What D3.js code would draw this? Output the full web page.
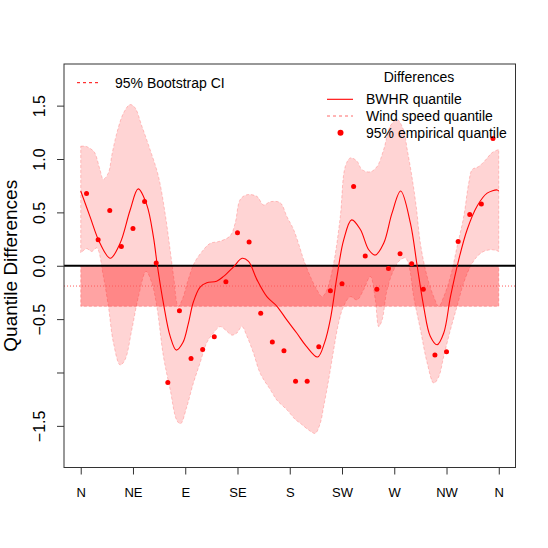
<!DOCTYPE html>
<html>
<head>
<meta charset="utf-8">
<script src="https://cdn.jsdelivr.net/npm/d3@7"></script>
<style>
  html, body { margin: 0; padding: 0; background: #fff; }
  svg { display: block; font-family: "Liberation Sans", Arial, Helvetica, sans-serif; }
</style>
</head>
<body>
<div id="chart"></div>
<script>
// Compass axis
const compassLabels = ['N', 'NE', 'E', 'SE', 'S', 'SW', 'W', 'NW', 'N'];
const compassDeg = [0, 45, 90, 135, 180, 225, 270, 315, 360];

// Y ticks (R drops the -1.0 label)
const yTicks = [-1.5, -1, -0.5, 0, 0.5, 1, 1.5];
const yTickLabels = ['\u22121.5', '', '\u22120.5', '0.0', '0.5', '1.0', '1.5'];

// 95% empirical quantile differences
const empDeg = [5, 15, 25, 35, 45, 55, 65, 75, 85, 95, 105, 115, 125, 135, 145, 155, 165, 175,
  185, 195, 205, 215, 225, 235, 245, 255, 265, 275, 285, 295, 305, 315, 325, 335, 345, 355];
const empVal = [0.678, 0.244, 0.518, 0.181, 0.350, 0.603, 0.025, -1.094, -0.422, -0.869, -0.784, -0.665,
  -0.150, 0.309, 0.222, -0.444, -0.715, -0.797, -1.081, -1.081, -0.759, -0.234, -0.169, 0.743,
  0.091, -0.219, -0.025, 0.112, 0.019, -0.219, -0.837, -0.806, 0.228, 0.481, 0.578, 1.193];

// BWHR quantile difference curve
const bwhrDeg = [0, 8, 16.6, 25.5, 33.9, 42.5, 49.5, 56.9, 62.6, 66, 71.2, 77, 82.3, 88, 92.5, 97, 102.8,
  108.6, 117, 123, 131.6, 139, 144.5, 151.7, 160.3, 169, 177.6, 186, 194, 204, 210, 215, 220.7, 226.4,
  233.3, 240.8, 248, 253.7, 260.9, 268, 275.5, 283.9, 289.7, 295.3, 301, 306.9, 312.6, 318.4, 325.5,
  332.8, 341.4, 350, 358.6, 360];
const bwhrVal = [0.70, 0.46, 0.21, 0.07, 0.21, 0.52, 0.72, 0.57, 0.27, 0.0, -0.35, -0.66, -0.79, -0.72,
  -0.55, -0.34, -0.20, -0.16, -0.145, -0.10, -0.01, 0.07, 0.04, -0.13, -0.29, -0.38, -0.51, -0.63, -0.75,
  -0.855, -0.72, -0.50, -0.10, 0.24, 0.43, 0.34, 0.15, 0.10, 0.21, 0.49, 0.70, 0.40, 0.0, -0.38, -0.66,
  -0.74, -0.63, -0.29, 0.056, 0.34, 0.56, 0.68, 0.71, 0.70];

// Bootstrap CI, upper limit
const ciUpDeg = [0, 4, 8, 12, 16.6, 19.5, 23.8, 27, 31, 36.8, 42.5, 46.8, 52.6, 59.7, 66.9, 72.7, 77, 80,
  84, 88, 92, 98, 105.7, 111.5, 120, 128.7, 133, 137.3, 143, 151.7, 157.4, 163.2, 171.8, 177.6, 183.3,
  189, 192, 197.7, 203.4, 207.8, 212, 217.8, 223.5, 227.8, 232.2, 237.9, 242.2, 249.4, 255.2, 260.9,
  266.6, 272.4, 278.1, 281, 285, 289, 292.5, 298.3, 304, 308.3, 312.6, 318.4, 324.1, 329.8, 334.1,
  337, 342.8, 348.5, 354.3, 360];
const ciUpVal = [1.12, 1.12, 1.10, 1.06, 0.90, 0.81, 0.87, 1.05, 1.24, 1.43, 1.51, 1.48, 1.31, 1.09, 0.84,
  0.49, 0.15, -0.10, -0.38, -0.30, -0.15, 0.03, 0.15, 0.21, 0.23, 0.28, 0.40, 0.62, 0.665, 0.65, 0.57,
  0.60, 0.59, 0.46, 0.34, 0.16, 0.056, -0.10, -0.225, -0.29, -0.225, 0.025, 0.46, 0.93, 1.01, 0.98,
  0.90, 0.88, 0.93, 1.09, 1.31, 1.37, 1.27, 1.10, 0.85, 0.55, 0.21, -0.10, -0.29, -0.38, -0.29, -0.10,
  0.18, 0.46, 0.775, 0.90, 0.93, 0.99, 1.06, 1.09];

// Bootstrap CI, lower limit
const ciLoDeg = [0, 5, 9.5, 13.8, 19.5, 23.8, 28.1, 33.9, 38.2, 44, 49.7, 56.3, 61.2, 65.5, 71.2, 77,
  82.8, 86, 91.4, 97, 102.8, 108.6, 114.3, 120, 124.4, 130.2, 134.5, 138.8, 143.1, 148.8, 154.6, 163.2,
  169, 177.6, 184.7, 189, 197.7, 202, 206.3, 209.2, 213.5, 217.8, 222, 226.4, 232.2, 237.9, 243.6,
  249.4, 253.7, 256.6, 259.5, 263.8, 269.5, 275.3, 279.6, 283, 286.7, 292.5, 298.3, 304, 308.3, 312.6,
  318.4, 324.1, 329.8, 335.6, 341.4, 347, 354.3, 360];
const ciLoVal = [0.12, 0.16, 0.134, 0.166, -0.10, -0.38, -0.72, -0.93, -0.88, -0.60, -0.29, -0.053,
  -0.16, -0.38, -0.85, -1.16, -1.45, -1.48, -1.32, -1.10, -0.91, -0.72, -0.63, -0.57, -0.60, -0.65,
  -0.63, -0.57, -0.66, -0.82, -1.01, -1.16, -1.26, -1.35, -1.44, -1.475, -1.55, -1.57, -1.475, -1.32,
  -1.07, -0.79, -0.54, -0.38, -0.29, -0.32, -0.225, -0.10, -0.32, -0.57, -0.51, -0.225, -0.04, 0.056,
  0.072, -0.02, -0.29, -0.60, -0.91, -1.10, -1.04, -0.85, -0.60, -0.38, -0.16, -0.006, 0.087, 0.134,
  0.15, 0.134];

// Wind speed quantile difference and its CI
const windQuantile = -0.19;
const windCI = [-0.38, -0.005];

const width = 548, height = 548;
const margin = { top: 64, right: 32.5, bottom: 80.5, left: 64 };

const svg = d3.select('#chart').append('svg')
  .attr('width', width).attr('height', height);

const x = d3.scaleLinear().domain([-14.4, 374.4]).range([margin.left, width - margin.right]);
const y = d3.scaleLinear().domain([-1.89, 1.89]).range([height - margin.bottom, margin.top]);

const plot = svg.append('g');

// Bootstrap band: upper limit forward, lower limit back
const bandLine = d3.line().x(d => x(d[0])).y(d => y(d[1])).curve(d3.curveCatmullRom);
const up = ciUpDeg.map((d, i) => [d, ciUpVal[i]]);
const lo = ciLoDeg.map((d, i) => [d, ciLoVal[i]]).reverse();
const bandPath = bandLine(up) + 'L' + bandLine(lo).slice(1) + 'Z';

plot.append('path')
  .attr('d', bandPath)
  .attr('fill', 'rgba(255,0,0,0.17)')
  .attr('stroke', 'rgba(255,0,0,0.2)')
  .attr('stroke-width', 1)
  .attr('stroke-dasharray', '3,2');

// Wind speed CI rectangle
plot.append('rect')
  .attr('x', x(0)).attr('width', x(360) - x(0))
  .attr('y', y(windCI[1])).attr('height', y(windCI[0]) - y(windCI[1]))
  .attr('fill', 'rgba(255,0,0,0.36)')
  .attr('stroke', 'rgba(255,0,0,0.25)')
  .attr('stroke-width', 1)
  .attr('stroke-dasharray', '3,2');

// Zero line
plot.append('line')
  .attr('x1', x.range()[0]).attr('x2', x.range()[1])
  .attr('y1', y(0)).attr('y2', y(0))
  .attr('stroke', '#000').attr('stroke-width', 2);

// Wind speed quantile (dotted)
plot.append('line')
  .attr('x1', x.range()[0]).attr('x2', x.range()[1])
  .attr('y1', y(windQuantile)).attr('y2', y(windQuantile))
  .attr('stroke', '#ff5a5a').attr('stroke-width', 1)
  .attr('stroke-dasharray', '1,2');

// BWHR curve
plot.append('path')
  .datum(bwhrDeg.map((d, i) => [d, bwhrVal[i]]))
  .attr('d', d3.line().x(d => x(d[0])).y(d => y(d[1])).curve(d3.curveCatmullRom))
  .attr('fill', 'none')
  .attr('stroke', '#ff0000')
  .attr('stroke-width', 1.1);

// Empirical points
plot.append('g').selectAll('circle')
  .data(empDeg.map((d, i) => [d, empVal[i]]))
  .enter().append('circle')
  .attr('cx', d => x(d[0])).attr('cy', d => y(d[1]))
  .attr('r', 2.5)
  .attr('fill', '#ff0000');

// Box
svg.append('rect')
  .attr('x', x.range()[0]).attr('y', y.range()[1])
  .attr('width', x.range()[1] - x.range()[0])
  .attr('height', y.range()[0] - y.range()[1])
  .attr('fill', 'none').attr('stroke', '#333').attr('stroke-width', 1);

// Axes
const xAxis = svg.append('g')
  .attr('transform', `translate(0,${y.range()[0]})`)
  .call(d3.axisBottom(x).tickValues(compassDeg).tickSize(7)
    .tickFormat((d, i) => compassLabels[i]));
xAxis.select('.domain').remove();
xAxis.selectAll('line').attr('stroke', '#333');
xAxis.selectAll('text')
  .attr('y', 29.5).attr('dy', null)
  .attr('font-size', '13px').attr('fill', '#000')
  .attr('font-family', '"Liberation Sans", Arial, sans-serif');

const yAxis = svg.append('g')
  .attr('transform', `translate(${x.range()[0]},0)`)
  .call(d3.axisLeft(y).tickValues(yTicks).tickSize(7)
    .tickFormat((d, i) => yTickLabels[i]));
yAxis.select('.domain').remove();
yAxis.selectAll('line').attr('stroke', '#333');
yAxis.selectAll('text')
  .attr('x', null).attr('dy', null)
  .attr('transform', 'translate(-19,0) rotate(-90)')
  .attr('text-anchor', 'middle')
  .attr('font-size', '16px').attr('fill', '#000')
  .attr('font-family', '"Liberation Sans", Arial, sans-serif');

// Y label
svg.append('text')
  .attr('transform', `translate(17,${y(0)}) rotate(-90)`)
  .attr('text-anchor', 'middle')
  .attr('font-size', '19px')
  .text('Quantile Differences');

// Legend: bootstrap CI
const leg1 = svg.append('g').attr('font-size', '14px');
leg1.append('line')
  .attr('x1', 77).attr('x2', 100).attr('y1', 82.7).attr('y2', 82.7)
  .attr('stroke', '#ff0000').attr('stroke-dasharray', '3,3');
leg1.append('text').attr('x', 115).attr('y', 82.7).attr('dy', '0.35em')
  .text('95% Bootstrap CI');

// Legend: differences
const leg2 = svg.append('g').attr('font-size', '14px');
leg2.append('text').attr('x', 419).attr('y', 76.7).attr('dy', '0.35em')
  .attr('text-anchor', 'middle').text('Differences');
const rows = [
  { label: 'BWHR quantile', kind: 'line' },
  { label: 'Wind speed quantile', kind: 'dash' },
  { label: '95% empirical quantile', kind: 'point' }
];
rows.forEach((r, i) => {
  const yy = 99.3 + i * 16.7;
  if (r.kind === 'line') {
    leg2.append('line').attr('x1', 327).attr('x2', 353).attr('y1', yy).attr('y2', yy)
      .attr('stroke', '#ff0000').attr('stroke-width', 1.1);
  } else if (r.kind === 'dash') {
    leg2.append('line').attr('x1', 327).attr('x2', 353).attr('y1', yy).attr('y2', yy)
      .attr('stroke', '#ff6a6a').attr('stroke-dasharray', '3,3');
  } else {
    leg2.append('circle').attr('cx', 340.5).attr('cy', yy).attr('r', 3).attr('fill', '#ff0000');
  }
  leg2.append('text').attr('x', 366).attr('y', yy).attr('dy', '0.35em').text(r.label);
});
</script>
</body>
</html>
